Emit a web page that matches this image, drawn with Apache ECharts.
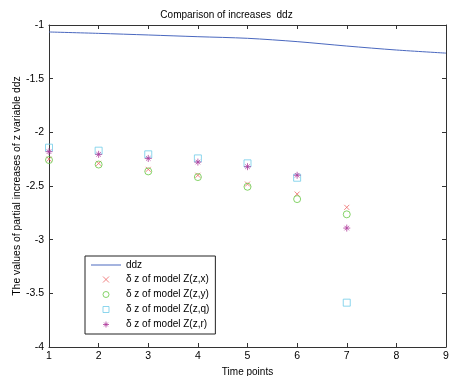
<!DOCTYPE html>
<html><head><meta charset="utf-8">
<script src="https://cdn.jsdelivr.net/npm/echarts@6/dist/echarts.min.js"></script>
<style>html,body{margin:0;padding:0;background:#fff}#c{width:453px;height:376px}</style>
</head><body><div id="c"></div>
<script>
var timePoints = [1, 2, 3, 4, 5, 6, 7, 8, 9];
var ddz = [-1.065, -1.078, -1.093, -1.109, -1.124, -1.155, -1.196, -1.233, -1.262];
var modelTimes = [1, 2, 3, 4, 5, 6, 7];
var zx = [-2.25, -2.289, -2.345, -2.40, -2.482, -2.575, -2.699];
var zy = [-2.258, -2.30, -2.364, -2.417, -2.507, -2.622, -2.764];
var zq = [-2.143, -2.171, -2.205, -2.243, -2.289, -2.423, -3.587];
var zr = [-2.18, -2.205, -2.243, -2.277, -2.32, -2.40, -2.892];
var yTicks = [-4, -3.5, -3, -2.5, -2, -1.5, -1];
var names = ['ddz', 'δ z of model Z(z,x)', 'δ z of model Z(z,y)', 'δ z of model Z(z,q)', 'δ z of model Z(z,r)'];

function pairs(xs, ys){ return xs.map(function(x,i){ return [x, ys[i]]; }); }
var font = 'Liberation Sans, Arial, sans-serif';
var axisCol = '#333';
var cLine = '#4a68bf', cX = '#ee6666', cY = '#66c844', cQ = '#70cce8', cR = '#b03c9c';
var xPath = 'path://M0,0L10,10M10,0L0,10';
var sqPath = 'path://M0,0L10,0L10,10L0,10Z';
var starPath = 'path://M5,0L5,10M0,5L10,5M1.8,1.8L8.2,8.2M8.2,1.8L1.8,8.2';
var chart = echarts.init(document.getElementById('c'));
var xBase = {type:'value', min:1, max:9, interval:1,
  axisLine:{show:true,onZero:false,lineStyle:{color:axisCol,width:1}},
  axisTick:{show:true,inside:true,length:4,lineStyle:{color:axisCol}},
  splitLine:{show:false}};
var yBase = {type:'value', min:-4, max:-1, interval:0.5,
  axisLine:{show:true,onZero:false,lineStyle:{color:axisCol,width:1}},
  axisTick:{show:true,inside:true,length:4,lineStyle:{color:axisCol}},
  splitLine:{show:false}};
chart.setOption({
  animation:false,
  backgroundColor:'#fff',
  title:{text:'Comparison of increases  ddz', left:'center', top:5,
    textStyle:{fontFamily:font,fontSize:10,fontWeight:'normal',color:'#000'}},
  grid:{left:49, right:7, top:25, bottom:29, containLabel:false, outerBoundsMode:'none'},
  xAxis:[
    Object.assign({}, xBase, {position:'bottom', name:'Time points', nameLocation:'middle', nameGap:20,
      nameMoveOverlap:false,
      nameTextStyle:{fontFamily:font,fontSize:10,color:'#000'},
      axisLabel:{fontFamily:font,fontSize:10.5,color:'#000',margin:4}}),
    Object.assign({}, xBase, {position:'top', axisLabel:{show:false}})
  ],
  yAxis:[
    Object.assign({}, yBase, {position:'left', name:'The values of partial increases of z variable ddz',
      nameLocation:'middle', nameGap:27, nameRotate:90, nameMoveOverlap:false,
      nameTextStyle:{fontFamily:font,fontSize:10.4,color:'#000'},
      axisLabel:{fontFamily:font,fontSize:10.5,color:'#000',margin:5,
        formatter:function(v){ return yTicks.indexOf(v)>=0 ? String(v) : ''; }}}),
    Object.assign({}, yBase, {position:'right', axisLabel:{show:false}})
  ],
  legend:{orient:'vertical', left:85, top:256, itemWidth:30, itemHeight:6, itemGap:4,
    padding:[4,6,4,6], borderColor:'#222', borderWidth:1, backgroundColor:'#fff',
    textStyle:{fontFamily:font,fontSize:10,color:'#000'},
    data:[
      {name:names[0], icon:'path://M0,0L30,0L30,1L0,1Z', itemStyle:{color:cLine, borderWidth:0}},
      {name:names[1], icon:xPath, itemStyle:{color:'none', borderColor:cX, borderWidth:1}},
      {name:names[2], icon:'circle', itemStyle:{color:'none', borderColor:cY, borderWidth:1}},
      {name:names[3], icon:sqPath, itemStyle:{color:'none', borderColor:cQ, borderWidth:1}},
      {name:names[4], icon:starPath, itemStyle:{color:'none', borderColor:cR, borderWidth:1}}
    ]},
  series:[
    {name:names[0], type:'line', data:pairs(timePoints, ddz), symbol:'none', showSymbol:false, smooth:0.3,
      lineStyle:{color:cLine, width:1}, itemStyle:{color:cLine}},
    {name:names[1], type:'scatter', data:pairs(modelTimes, zx), symbol:xPath, symbolSize:5,
      itemStyle:{color:'none', borderColor:cX, borderWidth:1}},
    {name:names[2], type:'scatter', data:pairs(modelTimes, zy), symbol:'circle', symbolSize:7,
      itemStyle:{color:'none', borderColor:cY, borderWidth:1}},
    {name:names[3], type:'scatter', data:pairs(modelTimes, zq), symbol:sqPath, symbolSize:7,
      itemStyle:{color:'none', borderColor:cQ, borderWidth:1}},
    {name:names[4], type:'scatter', data:pairs(modelTimes, zr), symbol:starPath, symbolSize:7,
      itemStyle:{color:'none', borderColor:cR, borderWidth:1}}
  ]
});
</script></body></html>
